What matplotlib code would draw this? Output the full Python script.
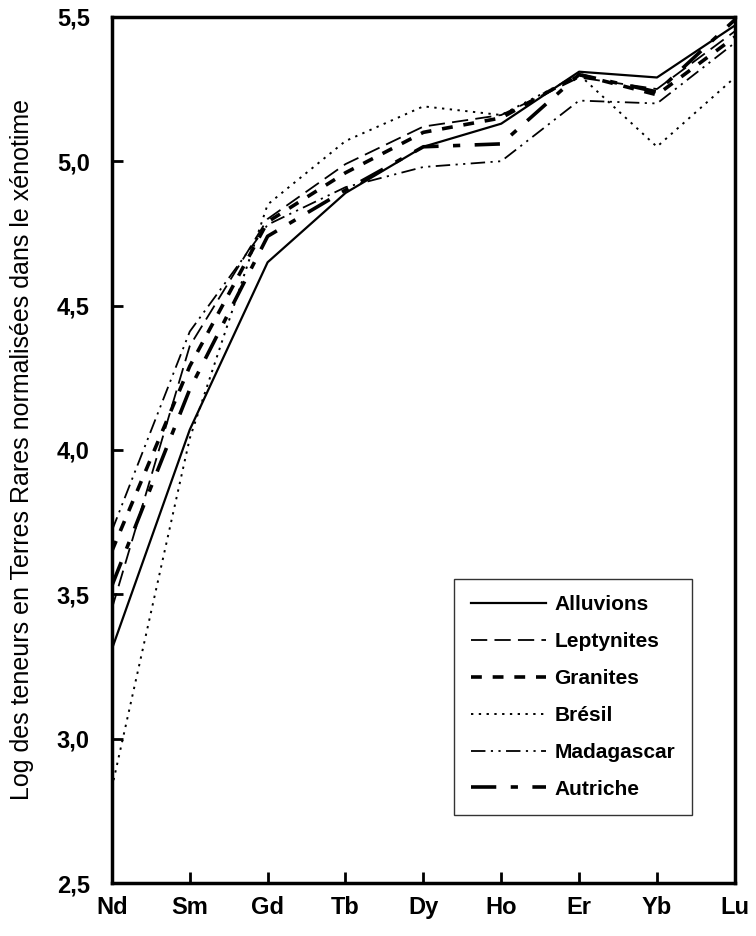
import numpy as np
import matplotlib
matplotlib.use("Agg")
import matplotlib.pyplot as plt

plt.rcParams['font.family'] = ['Liberation Sans', 'DejaVu Sans']

elements = ["Nd", "Sm", "Gd", "Tb", "Dy", "Ho", "Er", "Yb", "Lu"]

alluvions = [3.31, 4.07, 4.65, 4.89, 5.05, 5.13, 5.31, 5.29, 5.47]
leptynites = [3.45, 4.36, 4.80, 4.99, 5.12, 5.16, 5.29, 5.25, 5.45]
granites = [3.65, 4.29, 4.79, 4.96, 5.10, 5.15, 5.30, 5.23, 5.43]
bresil = [2.83, 4.04, 4.85, 5.07, 5.19, 5.16, 5.30, 5.05, 5.29]
madagascar = [3.72, 4.41, 4.78, 4.91, 4.98, 5.00, 5.21, 5.20, 5.41]
autriche = [3.53, 4.21, 4.74, 4.90, 5.05, 5.06, 5.30, 5.24, 5.49]

fig = plt.figure(figsize=(7.56, 9.36), dpi=100)
ax = fig.add_axes([0.148, 0.0566, 0.824, 0.9254])

x = np.arange(len(elements))

ax.plot(x, alluvions, color='black', lw=1.6, label='Alluvions')
ax.plot(x, leptynites, color='black', lw=1.3, dashes=(9, 4), label='Leptynites')
ax.plot(x, granites, color='black', lw=2.6, dashes=(3, 3), label='Granites')
ax.plot(x, bresil, color='black', lw=1.4, dashes=(1.2, 2.8), label='Brésil')
ax.plot(x, madagascar, color='black', lw=1.3, dashes=(8, 3, 1.2, 3, 1.2, 3), label='Madagascar')
ax.plot(x, autriche, color='black', lw=2.6, dashes=(7, 4, 2, 4), label='Autriche')

ax.set_xlim(0, 8)
ax.set_ylim(2.5, 5.5)
ax.set_xticks(x)
ax.set_xticklabels(elements)
yt = [2.5, 3.0, 3.5, 4.0, 4.5, 5.0, 5.5]
ax.set_yticks(yt)
ax.set_yticklabels([("%.1f" % v).replace(".", ",") for v in yt])

for s in ax.spines.values():
    s.set_linewidth(2.5)

ax.tick_params(axis='both', direction='in', length=8, width=2, labelsize=17)
ax.tick_params(axis='x', pad=9)
ax.tick_params(axis='y', pad=16)
for lab in ax.get_xticklabels() + ax.get_yticklabels():
    lab.set_fontweight('bold')

ax.set_ylabel("Log des teneurs en Terres Rares normalisées dans le xénotime",
              fontsize=18, labelpad=16)

leg = ax.legend(loc='lower left', bbox_to_anchor=(0.533, 0.066), frameon=True,
                fancybox=False, edgecolor='black', handlelength=3.6,
                labelspacing=0.86, borderpad=0.8, handletextpad=0.4,
                prop={'weight': 'bold', 'size': 15})
leg.get_frame().set_linewidth(1.0)

fig.savefig("out.png", dpi=100)
